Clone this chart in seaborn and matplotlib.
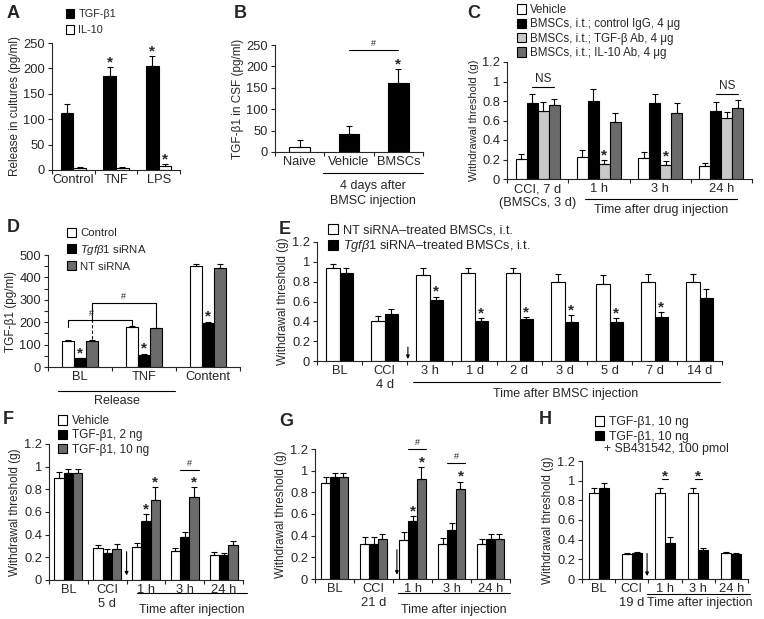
import numpy as np
import pandas as pd
import matplotlib
matplotlib.use('Agg')
import matplotlib.pyplot as plt
from matplotlib.patches import Patch
from matplotlib.lines import Line2D
import seaborn as sns

# ---------------- data ----------------
# A: cytokine release in cultures
a_groups = ['Control', 'TNF', 'LPS']
a_tgf = [112, 185, 205]
a_tgf_err = [17, 18, 20]
a_il10 = [3, 3, 8]
a_il10_err = [2, 2, 4]

# B: TGF-b1 in CSF
b_groups = ['Naive', 'Vehicle', 'BMSCs']
b_vals = [12, 42, 162]
b_err = [15, 18, 32]

# C: antibody block
c_groups = ['CCI, 7 d\n(BMSCs, 3 d)', '1 h', '3 h', '24 h']
c_vehicle = [0.21, 0.23, 0.22, 0.13]
c_vehicle_err = [0.05, 0.07, 0.06, 0.03]
c_igg = [0.78, 0.80, 0.78, 0.70]
c_igg_err = [0.09, 0.12, 0.09, 0.09]
c_tgfab = [0.70, 0.15, 0.14, 0.63]
c_tgfab_err = [0.09, 0.04, 0.04, 0.06]
c_il10ab = [0.76, 0.58, 0.68, 0.73]
c_il10ab_err = [0.06, 0.10, 0.10, 0.08]

# D: siRNA knockdown
d_groups = ['BL', 'TNF', 'Content']
d_control = [118, 177, 452]
d_control_err = [3, 4, 8]
d_sirna = [38, 52, 198]
d_sirna_err = [3, 8, 5]
d_nt = [118, 172, 443]
d_nt_err = [3, 4, 15]

# E: siRNA-treated BMSCs time course
e_groups = ['BL', 'CCI\n4 d', '3 h', '1 d', '2 d', '3 d', '5 d', '7 d', '14 d']
e_nt = [0.94, 0.40, 0.87, 0.89, 0.89, 0.80, 0.78, 0.80, 0.80]
e_nt_err = [0.04, 0.05, 0.07, 0.05, 0.05, 0.08, 0.09, 0.08, 0.08]
e_kd = [0.89, 0.47, 0.62, 0.40, 0.42, 0.39, 0.39, 0.44, 0.64]
e_kd_err = [0.05, 0.05, 0.03, 0.03, 0.02, 0.07, 0.04, 0.05, 0.09]

# F: TGF-b1 i.t., CCI 5 d
f_groups = ['BL', 'CCI\n5 d', '1 h', '3 h', '24 h']
f_vehicle = [0.90, 0.28, 0.29, 0.26, 0.22]
f_vehicle_err = [0.05, 0.03, 0.04, 0.02, 0.03]
f_2ng = [0.94, 0.24, 0.52, 0.38, 0.22]
f_2ng_err = [0.04, 0.03, 0.06, 0.04, 0.02]
f_10ng = [0.94, 0.27, 0.71, 0.73, 0.31]
f_10ng_err = [0.04, 0.05, 0.11, 0.09, 0.03]

# G: TGF-b1 i.t., CCI 21 d
g_groups = ['BL', 'CCI\n21 d', '1 h', '3 h', '24 h']
g_vehicle = [0.89, 0.32, 0.36, 0.32, 0.32]
g_vehicle_err = [0.05, 0.07, 0.07, 0.06, 0.05]
g_2ng = [0.94, 0.32, 0.54, 0.45, 0.37]
g_2ng_err = [0.04, 0.07, 0.04, 0.07, 0.05]
g_10ng = [0.94, 0.37, 0.92, 0.83, 0.37]
g_10ng_err = [0.04, 0.05, 0.11, 0.07, 0.05]

# H: SB431542
h_groups = ['BL', 'CCI\n19 d', '1 h', '3 h', '24 h']
h_tgf = [0.87, 0.25, 0.87, 0.87, 0.26]
h_tgf_err = [0.06, 0.01, 0.06, 0.06, 0.01]
h_sb = [0.93, 0.26, 0.37, 0.30, 0.25]
h_sb_err = [0.05, 0.01, 0.06, 0.02, 0.01]

WHITE, BLACK, LGRAY, DGRAY = '#ffffff', '#000000', '#c8c8c8', '#6b6b6b'

sns.set_theme(style='ticks')
plt.rcParams['font.family'] = ['Liberation Sans', 'DejaVu Sans']
plt.rcParams['mathtext.fontset'] = 'custom'
plt.rcParams['mathtext.it'] = 'Liberation Sans:italic'
plt.rcParams['mathtext.rm'] = 'Liberation Sans'

W, H = 764, 619
fig = plt.figure(figsize=(W / 100, H / 100), dpi=100)

TICK_FS = 9.3
YLAB_FS = 8.5
NOTE_FS = 9


def rect(x0, x1, ytop, ybot):
    return [x0 / W, 1 - ybot / H, (x1 - x0) / W, (ybot - ytop) / H]


def ftext(x, y, s, **kw):
    kw.setdefault('fontsize', NOTE_FS)
    kw.setdefault('ha', 'center')
    kw.setdefault('va', 'center')
    fig.text(x / W, 1 - y / H, s, **kw)


def fline(x0, x1, y):
    fig.add_artist(Line2D([x0 / W, x1 / W], [1 - y / H] * 2, transform=fig.transFigure,
                          color='black', lw=0.8))


def draw_bars(ax, groups, series, values, errors, colors, width):
    rows = []
    for s, vals in zip(series, values):
        for g, v in zip(groups, vals):
            rows.append({'group': g, 'series': s, 'value': v})
    df = pd.DataFrame(rows)
    sns.barplot(data=df, x='group', y='value', hue='series', order=groups, hue_order=series,
                palette=colors, width=width, edgecolor='black', linewidth=0.8,
                errorbar=None, legend=False, saturation=1, ax=ax)
    pos = []
    for cont, errs in zip(ax.containers, errors):
        xs = [b.get_x() + b.get_width() / 2 for b in cont]
        hs = [b.get_height() for b in cont]
        ax.errorbar(xs, hs, yerr=[np.zeros(len(errs)), errs], fmt='none', ecolor='black',
                    elinewidth=0.8, capsize=2.5, capthick=0.8)
        lefts = [b.get_x() for b in cont]
        rights = [b.get_x() + b.get_width() for b in cont]
        pos.append(dict(x=xs, top=[h + e for h, e in zip(hs, errs)], l=lefts, r=rights))
    return pos


def style(ax, n, ylim, yticks, ylabel, ylab_fs=YLAB_FS):
    ax.set_xlim(-0.5, n - 0.5)
    ax.set_ylim(*ylim)
    ax.set_yticks(yticks)
    ax.set_yticklabels(['{:g}'.format(t) for t in yticks])
    ax.set_xticks(np.arange(n + 1) - 0.5, minor=True)
    ax.tick_params(axis='x', which='major', length=0, pad=3, labelsize=TICK_FS)
    ax.tick_params(axis='x', which='minor', length=3, width=0.8, direction='out')
    ax.tick_params(axis='y', length=3, width=0.8, labelsize=TICK_FS, pad=2)
    for sp in ['left', 'bottom']:
        ax.spines[sp].set_linewidth(0.8)
    sns.despine(ax=ax)
    ax.set_xlabel('')
    ax.set_ylabel(ylabel, fontsize=ylab_fs, labelpad=2)


def star(ax, x, y, dy=0.5):
    ax.annotate('*', (x, y), xytext=(0, dy), textcoords='offset points', ha='center',
                va='baseline', fontsize=11, fontweight='bold', annotation_clip=False)


def sigline(ax, x0, x1, y, label):
    ax.plot([x0, x1], [y, y], color='black', lw=0.8, clip_on=False)
    if label:
        ax.annotate(label, ((x0 + x1) / 2, y), xytext=(0, 1.5), textcoords='offset points',
                    ha='center', va='bottom', fontsize=6.5, annotation_clip=False)


def arrow(ax, x, y0, y1):
    ax.annotate('', xy=(x, y1), xytext=(x, y0),
                arrowprops=dict(arrowstyle='-|>', color='black', lw=0.8, mutation_scale=5,
                                shrinkA=0, shrinkB=0))


def legend(handles_colors, labels, x, y, spacing, fs):
    handles = [Patch(facecolor=c, edgecolor='black', linewidth=0.8) for c in handles_colors]
    fig.legend(handles, labels, loc='upper left', bbox_to_anchor=(x / W, 1 - y / H),
               frameon=False, fontsize=fs, handlelength=0.75, handleheight=0.85,
               handletextpad=0.4, labelspacing=spacing, borderpad=0, borderaxespad=0)


def letter(x, y, s):
    ftext(x, y, s, fontsize=13, fontweight='heavy')


# ---------------- A ----------------
ax = fig.add_axes(rect(52, 180, 43, 170))
p = draw_bars(ax, a_groups, ['TGF-β1', 'IL-10'], [a_tgf, a_il10], [a_tgf_err, a_il10_err],
              [BLACK, WHITE], 0.6)
style(ax, 3, (0, 250), [0, 50, 100, 150, 200, 250], 'Release in cultures (pg/ml)')
star(ax, p[0]['x'][1], p[0]['top'][1])
star(ax, p[0]['x'][2], p[0]['top'][2])
star(ax, p[1]['x'][2], p[1]['top'][2])
legend([BLACK, WHITE], ['TGF-β1', 'IL-10'], 66, 9, 0.55, 7.8)
letter(13, 14, 'A')

# ---------------- B ----------------
ax = fig.add_axes(rect(275, 423, 45, 152))
dfb = pd.DataFrame({'group': b_groups, 'value': b_vals})
sns.barplot(data=dfb, x='group', y='value', hue='group', order=b_groups, hue_order=b_groups,
            palette=[WHITE, BLACK, BLACK], width=0.42, edgecolor='black', linewidth=0.8,
            errorbar=None, legend=False, saturation=1, ax=ax)
bx = [b.get_x() + b.get_width() / 2 for b in ax.patches]
ax.errorbar(bx, b_vals, yerr=[np.zeros(3), b_err], fmt='none', ecolor='black',
            elinewidth=0.8, capsize=2.5, capthick=0.8)
style(ax, 3, (0, 250), [0, 50, 100, 150, 200, 250], 'TGF-β1 in CSF (pg/ml)')
star(ax, bx[2], b_vals[2] + b_err[2])
sigline(ax, bx[1], bx[2], 238, '#')
fline(323, 423, 173)
ftext(373, 186, '4 days after')
ftext(373, 201, 'BMSC injection')
letter(240, 14, 'B')

# ---------------- C ----------------
ax = fig.add_axes(rect(507, 752, 62, 179))
p = draw_bars(ax, c_groups, ['v', 'igg', 'tgf', 'il10'],
              [c_vehicle, c_igg, c_tgfab, c_il10ab],
              [c_vehicle_err, c_igg_err, c_tgfab_err, c_il10ab_err],
              [WHITE, BLACK, LGRAY, DGRAY], 0.72)
style(ax, 4, (0, 1.2), [0, 0.2, 0.4, 0.6, 0.8, 1.0, 1.2], 'Withdrawal threshold (g)', 8)
star(ax, p[2]['x'][1], p[2]['top'][1])
star(ax, p[2]['x'][2], p[2]['top'][2])
ax.plot([p[1]['x'][0], p[3]['x'][0]], [0.94, 0.94], color='black', lw=0.8)
ax.text((p[1]['x'][0] + p[3]['x'][0]) / 2, 0.96, 'NS', ha='center', va='bottom', fontsize=8.5)
ax.plot([p[1]['x'][3], p[3]['x'][3]], [0.87, 0.87], color='black', lw=0.8)
ax.text((p[1]['x'][3] + p[3]['x'][3]) / 2, 0.89, 'NS', ha='center', va='bottom', fontsize=8.5)
fline(585, 737, 199)
ftext(661, 210, 'Time after drug injection')
legend([WHITE, BLACK, LGRAY, DGRAY],
       ['Vehicle', 'BMSCs, i.t.; control IgG, 4 μg', 'BMSCs, i.t.; TGF-β Ab, 4 μg',
        'BMSCs, i.t.; IL-10 Ab, 4 μg'], 517, 4, 0.2, 8.3)
letter(474, 14, 'C')

# ---------------- D ----------------
ax = fig.add_axes(rect(48, 240, 255, 367))
p = draw_bars(ax, d_groups, ['c', 'kd', 'nt'], [d_control, d_sirna, d_nt],
              [d_control_err, d_sirna_err, d_nt_err], [WHITE, BLACK, DGRAY], 0.55)
style(ax, 3, (0, 500), [0, 100, 200, 300, 400, 500], 'TGF-β1 (pg/ml)')
ax.set_yticks(np.arange(50, 500, 100), minor=True)
ax.tick_params(axis='y', which='minor', length=3, width=0.8)
for i in range(3):
    star(ax, p[1]['x'][i], p[1]['top'][i])
# brackets
xw0, xw1 = p[0]['x'][0], p[0]['x'][1]
xg0, xg1 = p[2]['x'][0], p[2]['x'][1]
ax.plot([xw0, xw0, xw1, xw1], [180, 210, 210, 188], color='black', lw=0.8)
ax.text((xw0 + xw1) / 2 - 0.13, 218, '#', ha='center', va='bottom', fontsize=6.5)
ax.plot([xg0, xg0, xg1, xg1], [210, 287, 287, 175], color='black', lw=0.8)
ax.plot([xg0, xg0], [125, 210], color='black', lw=0.8, ls=(0, (3, 2)))
ax.text((xg0 + xg1) / 2, 295, '#', ha='center', va='bottom', fontsize=6.5)
fline(58, 175, 391)
ftext(117, 401, 'Release')
legend([WHITE, BLACK, DGRAY], ['Control', r'$\it{Tgf\beta1}$ siRNA', 'NT siRNA'],
       67, 228, 0.38, 8.2)
letter(13, 228, 'D')

# ---------------- E ----------------
ax = fig.add_axes(rect(317, 722, 242, 361))
p = draw_bars(ax, e_groups, ['nt', 'kd'], [e_nt, e_kd], [e_nt_err, e_kd_err],
              [WHITE, BLACK], 0.6)
style(ax, 9, (0, 1.2), [0, 0.2, 0.4, 0.6, 0.8, 1.0, 1.2], 'Withdrawal threshold (g)')
for i in range(2, 8):
    star(ax, p[1]['x'][i], p[1]['top'][i])
arrow(ax, 1.52, 0.14, 0.02)
fline(413, 720, 382)
ftext(566, 394, 'Time after BMSC injection')
legend([WHITE, BLACK], ['NT siRNA–treated BMSCs, i.t.',
                        r'$\it{Tgf\beta1}$ siRNA–treated BMSCs, i.t.'], 328, 224, 0.15, 9.2)
letter(285, 230, 'E')

# ---------------- F ----------------
ax = fig.add_axes(rect(49, 243, 444, 580))
p = draw_bars(ax, f_groups, ['v', 'a', 'b'], [f_vehicle, f_2ng, f_10ng],
              [f_vehicle_err, f_2ng_err, f_10ng_err], [WHITE, BLACK, DGRAY], 0.72)
style(ax, 5, (0, 1.2), [0, 0.2, 0.4, 0.6, 0.8, 1.0, 1.2], 'Withdrawal threshold (g)')
star(ax, p[1]['x'][2], p[1]['top'][2])
star(ax, p[2]['x'][2], p[2]['top'][2])
star(ax, p[2]['x'][3], p[2]['top'][3])
sigline(ax, p[1]['l'][3], p[2]['r'][3], 0.97, '#')
arrow(ax, 1.5, 0.25, 0.04)
fline(137, 247, 593)
ftext(192, 610, 'Time after injection')
legend([WHITE, BLACK, DGRAY], ['Vehicle', 'TGF-β1, 2 ng', 'TGF-β1, 10 ng'],
       58, 415, 0.2, 8.5)
letter(8, 420, 'F')

# ---------------- G ----------------
ax = fig.add_axes(rect(315, 510, 449, 579))
p = draw_bars(ax, g_groups, ['v', 'a', 'b'], [g_vehicle, g_2ng, g_10ng],
              [g_vehicle_err, g_2ng_err, g_10ng_err], [WHITE, BLACK, DGRAY], 0.69)
style(ax, 5, (0, 1.2), [0, 0.2, 0.4, 0.6, 0.8, 1.0, 1.2], 'Withdrawal threshold (g)')
star(ax, p[1]['x'][2], p[1]['top'][2])
star(ax, p[2]['x'][2], p[2]['top'][2])
star(ax, p[2]['x'][3], p[2]['top'][3])
sigline(ax, p[1]['l'][2], p[2]['r'][2], 1.2, '#')
sigline(ax, p[1]['l'][3], p[2]['r'][3], 1.07, '#')
arrow(ax, 1.6, 0.27, 0.04)
fline(398, 510, 593)
ftext(454, 610, 'Time after injection')
letter(286, 422, 'G')

# ---------------- H ----------------
ax = fig.add_axes(rect(582, 748, 461, 579))
p = draw_bars(ax, h_groups, ['t', 's'], [h_tgf, h_sb], [h_tgf_err, h_sb_err],
              [WHITE, BLACK], 0.6)
style(ax, 5, (0, 1.2), [0, 0.2, 0.4, 0.6, 0.8, 1.0, 1.2], 'Withdrawal threshold (g)')
for i in (2, 3):
    ax.plot([p[0]['x'][i] + 0.05, p[1]['x'][i] - 0.05], [1.02, 1.02], color='black', lw=0.8)
    star(ax, (p[0]['x'][i] + p[1]['x'][i]) / 2, 1.02, dy=-1.5)
arrow(ax, 1.46, 0.26, 0.03)
fline(647, 750, 594)
ftext(700, 603, 'Time after injection')
legend([WHITE, BLACK], ['TGF-β1, 10 ng', 'TGF-β1, 10 ng'], 595, 416, 0.2, 8.8)
ftext(604, 449, '+ SB431542, 100 pmol', fontsize=8.8, ha='left')
letter(545, 420, 'H')

fig.savefig('out.png', dpi=100)
